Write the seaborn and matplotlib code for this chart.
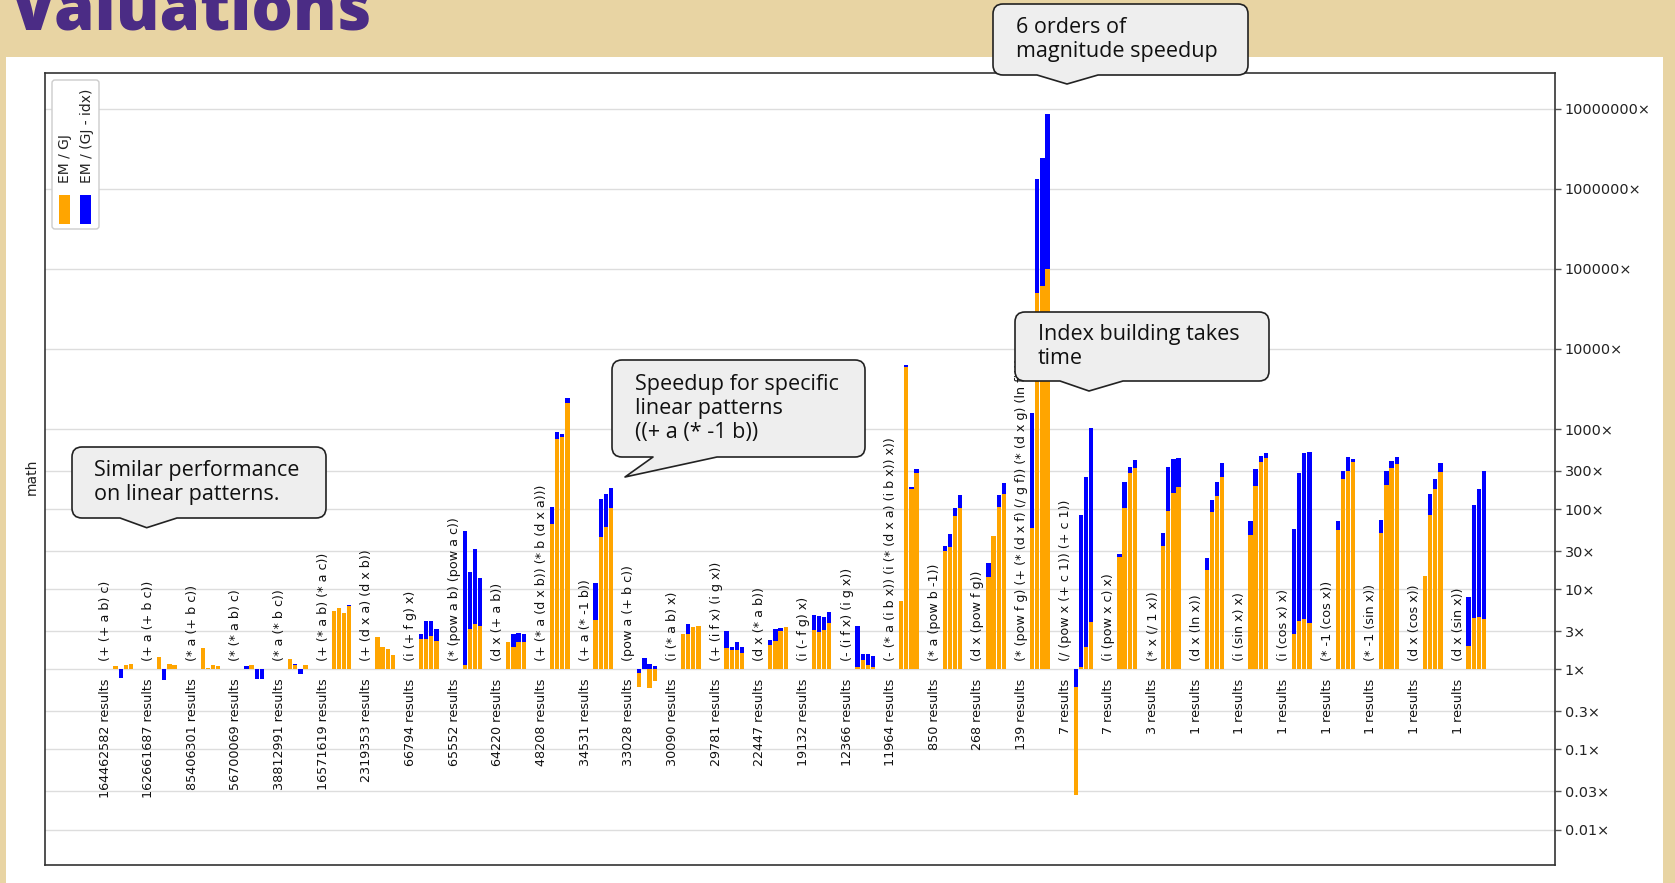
import numpy as np
import pandas as pd
import matplotlib
matplotlib.use("Agg")
import matplotlib.pyplot as plt
from matplotlib.path import Path
from matplotlib.patches import PathPatch, Rectangle, FancyBboxPatch
import seaborn as sns

# ---------------------------------------------------------------- data
patterns = [
    "(+ (+ a b) c)", "(+ a (+ b c))", "(* a (+ b c))", "(* (* a b) c)",
    "(* a (* b c))", "(+ (* a b) (* a c))", "(+ (d x a) (d x b))", "(i (+ f g) x)",
    "(* (pow a b) (pow a c))", "(d x (+ a b))", "(+ (* a (d x b)) (* b (d x a)))",
    "(+ a (* -1 b))", "(pow a (+ b c))", "(i (* a b) x)", "(+ (i f x) (i g x))",
    "(d x (* a b))", "(i (- f g) x)", "(- (i f x) (i g x))",
    "(- (* a (i b x)) (i (* (d x a) (i b x)) x))", "(* a (pow b -1))",
    "(d x (pow f g))", "(* (pow f g) (+ (* (d x f) (/ g f)) (* (d x g) (ln f))))",
    "(/ (pow x (+ c 1)) (+ c 1))", "(i (pow x c) x)", "(* x (/ 1 x))",
    "(d x (ln x))", "(i (sin x) x)", "(i (cos x) x)", "(* -1 (cos x))",
    "(* -1 (sin x))", "(d x (cos x))", "(d x (sin x))",
]
result_counts = [
    164462582, 162661687, 85406301, 56700069, 38812991, 16571619, 2319353, 66794,
    65552, 64220, 48208, 34531, 33028, 30090, 29781, 22447, 19132, 12366, 11964,
    850, 268, 139, 7, 7, 3, 1, 1, 1, 1, 1, 1, 1,
]
# speedup EM / GJ, four runs per pattern
em_over_gj = [
    [1.11, 1.0, 1.13, 1.17], [1.43, 1.0, 1.17, 1.12], [1.83, 1.04, 1.13, 1.11],
    [1.0, 1.13, 1.0, 1.0], [1.35, 1.12, 1.0, 1.12], [5.35, 5.83, 5.1, 6.2],
    [2.5, 1.9, 1.78, 1.52], [2.39, 2.41, 2.6, 2.26], [1.14, 3.19, 3.65, 3.5],
    [2.21, 1.92, 2.17, 2.17], [65.2, 758, 787, 2133], [4.13, 45.3, 60.4, 102],
    [0.61, 1.0, 0.58, 0.71], [2.76, 2.76, 3.35, 3.51], [1.83, 1.74, 1.74, 1.61],
    [2.01, 2.28, 3.04, 3.35], [3.1, 2.9, 3.1, 3.83], [1.06, 1.31, 1.13, 1.08],
    [7.05, 5970, 180, 285], [29.7, 33.7, 81, 104], [14.2, 46.4, 107, 156],
    [57.3, 49400, 61000, 99500], [0.027, 1.07, 1.92, 3.85], [25.5, 104, 280, 323],
    [35, 95.7, 157, 187], [17.4, 91.2, 147, 249], [47.5, 196, 384, 431],
    [2.73, 4.01, 4.25, 3.83], [55, 238, 299, 384], [49.9, 200, 323, 366],
    [14.6, 84.5, 177, 288], [1.95, 4.33, 4.5, 4.3],
]
# speedup EM / (GJ - index building time)
em_over_gj_minus_idx = [
    [1.11, 0.77, 1.13, 1.17], [1.43, 0.74, 1.17, 1.12], [1.83, 1.04, 1.14, 1.11],
    [1.09, 1.13, 0.75, 0.75], [1.35, 1.15, 0.87, 1.12], [5.35, 5.83, 5.1, 6.3],
    [2.5, 1.9, 1.81, 1.52], [2.76, 3.97, 3.97, 3.16], [53, 16.6, 31.8, 13.7],
    [2.21, 2.76, 2.81, 2.76], [107, 927, 867, 2417], [11.9, 132, 154, 182],
    [0.89, 1.40, 1.15, 1.11], [2.76, 3.65, 3.42, 3.51], [3.04, 1.92, 2.17, 1.92],
    [2.32, 3.16, 3.25, 3.35], [4.77, 4.63, 4.55, 5.15], [3.51, 1.55, 1.55, 1.47],
    [7.05, 6220, 187, 314], [35.1, 49.1, 104, 148], [21.2, 46.4, 148, 209],
    [1585, 1.31e6, 2.44e6, 8.57e6], [0.61, 84.6, 255, 1040], [27.5, 220, 333, 410],
    [49.9, 333, 419, 439], [24.3, 130, 216, 373], [71, 314, 461, 507],
    [56.5, 280, 497, 522], [71, 299, 443, 419], [73, 299, 403, 443],
    [14.6, 154, 235, 373], [8.1, 112, 180, 300],
]
series_names = ["EM / GJ", "EM / (GJ - idx)"]
series_colors = ["#ffa500", "#0000ff"]
tick_values = [1e7, 1e6, 1e5, 1e4, 1000, 300, 100, 30, 10, 3, 1, 0.3, 0.1, 0.03, 0.01]
tick_labels = ["10000000×", "1000000×", "100000×", "10000×", "1000×", "300×",
               "100×", "30×", "10×", "3×", "1×", "0.3×", "0.1×", "0.03×", "0.01×"]

# ---------------------------------------------------------------- layout
W, H = 1675, 883
BAR_OFFSET, BAR_STEP = 0.2405, 0.118

rows = []
for g, (o_vals, b_vals) in enumerate(zip(em_over_gj, em_over_gj_minus_idx)):
    for k, (o, b) in enumerate(zip(o_vals, b_vals)):
        lo, lb = np.log10(o), np.log10(b)
        pos = g + BAR_OFFSET + BAR_STEP * k
        # the taller bar goes behind, the shorter one is drawn over it
        if abs(lb) >= abs(lo):
            rows.append((pos, series_names[1], lb, "back"))
            rows.append((pos, series_names[0], lo, "front"))
        else:
            rows.append((pos, series_names[0], lo, "back"))
            rows.append((pos, series_names[1], lb, "front"))
df = pd.DataFrame(rows, columns=["pos", "series", "log_speedup", "layer"])

sns.set_theme(style="white")
plt.rcParams["font.family"] = ["DejaVu Sans"]

fig = plt.figure(figsize=(W / 100, H / 100), dpi=100)
fig.patch.set_facecolor("#e8d4a3")
fig.add_artist(Rectangle((6 / W, 0), (1663 - 6) / W, (H - 57) / H,
                         transform=fig.transFigure, facecolor="white",
                         edgecolor="none", zorder=-1))

ax_l, ax_r, ax_t, ax_b = 45, 1555, 72.6, 865
ax = fig.add_axes([ax_l / W, 1 - ax_b / H, (ax_r - ax_l) / W, (ax_b - ax_t) / H])

palette = dict(zip(series_names, series_colors))
for layer in ["back", "front"]:
    sns.barplot(data=df[df["layer"] == layer], x="pos", y="log_speedup",
                hue="series", hue_order=series_names, palette=palette,
                native_scale=True, dodge=False, width=0.835, errorbar=None,
                saturation=1, linewidth=0, legend=False, ax=ax)

ax.set_xlim(-1.375, 33.22)
ax.set_ylim(-2.443, 7.45)
ax.set_xticks([])
ax.set_xlabel("")
ax.set_ylabel("")
ax.set_yticks(np.log10(tick_values))
ax.set_yticklabels(tick_labels)
ax.yaxis.tick_right()
ax.tick_params(axis="y", right=True, left=False, labelright=True, labelleft=False,
               length=4, width=1, color="#555555", labelsize=10.4, pad=3,
               labelcolor="#222222")
ax.yaxis.grid(True, color="#dddddd", linewidth=1)
ax.set_axisbelow(True)
for sp in ax.spines.values():
    sp.set_color("#333333")
    sp.set_linewidth(1.2)

ax.text(-13 / (ax_r - ax_l), (ax_b - 477) / (ax_b - ax_t), "math", rotation=90,
        ha="center", va="center", fontsize=10, color="#222222",
        transform=ax.transAxes)

for g, (pat, cnt) in enumerate(zip(patterns, result_counts)):
    ax.annotate(f"{cnt} results", xy=(g, 0), xytext=(0, -9),
                textcoords="offset pixels", rotation=90, ha="center", va="top",
                fontsize=9.2, color="#111111")
    ax.annotate(pat, xy=(g, 0), xytext=(0, 8), textcoords="offset pixels",
                rotation=90, ha="center", va="bottom", fontsize=9.2,
                color="#111111")

# ---------------------------------------------------------------- overlay (pixel coordinates)
ov = fig.add_axes([0, 0, 1, 1], zorder=5)
ov.set_xlim(0, W)
ov.set_ylim(H, 0)
ov.axis("off")
ov.patch.set_alpha(0)

# legend
ov.add_patch(FancyBboxPatch((52, 80), 47, 149, boxstyle="round,pad=0,rounding_size=3",
                            facecolor="white", edgecolor="#cccccc", linewidth=1))
ov.text(65.5, 183, series_names[0], rotation=90, ha="center", va="bottom",
        fontsize=10, color="#222222")
ov.text(87, 183, series_names[1], rotation=90, ha="center", va="bottom",
        fontsize=10, color="#222222")
ov.add_patch(Rectangle((58.5, 195), 11, 29, facecolor=series_colors[0], edgecolor="none"))
ov.add_patch(Rectangle((80, 195), 11, 29, facecolor=series_colors[1], edgecolor="none"))


def bubble(x0, y0, x1, y1, tbl, tbr, tip, r=10):
    verts = [
        (x0 + r, y0), (x1 - r, y0), (x1, y0), (x1, y0 + r), (x1, y1 - r),
        (x1, y1), (x1 - r, y1), (tbr, y1), tip, (tbl, y1), (x0 + r, y1),
        (x0, y1), (x0, y1 - r), (x0, y0 + r), (x0, y0), (x0 + r, y0), (x0 + r, y0),
    ]
    codes = [
        Path.MOVETO, Path.LINETO, Path.CURVE3, Path.CURVE3, Path.LINETO,
        Path.CURVE3, Path.CURVE3, Path.LINETO, Path.LINETO, Path.LINETO, Path.LINETO,
        Path.CURVE3, Path.CURVE3, Path.LINETO, Path.CURVE3, Path.CURVE3, Path.CLOSEPOLY,
    ]
    return PathPatch(Path(verts, codes), facecolor="#eeeeee", edgecolor="#222222",
                     linewidth=1.2, joinstyle="round")


callouts = [
    ((72, 447, 326, 518), (120, 177, (146.7, 527.7)), 94,
     "Similar performance\non linear patterns."),
    ((612, 360, 865, 457), (653, 717, (625, 477)), 635,
     "Speedup for specific\nlinear patterns\n((+ a (* -1 b))"),
    ((993, 4, 1248, 75), (1037, 1098, (1067, 84)), 1016,
     "6 orders of\nmagnitude speedup"),
    ((1015, 312, 1269, 381), (1060, 1123, (1089, 391)), 1038,
     "Index building takes\ntime"),
]
for (x0, y0, x1, y1), (tbl, tbr, tip), tx, txt in callouts:
    ov.add_patch(bubble(x0, y0, x1, y1, tbl, tbr, tip))
    ov.text(tx, (y0 + y1) / 2, txt, ha="left", va="center", fontsize=15.5,
            family=["Open Sans", "DejaVu Sans"], color="#111111", linespacing=1.2)

fig.text(10 / W, 1 - 29 / H, "Valuations", ha="left", va="baseline",
         fontsize=47, fontweight="heavy", family=["Open Sans", "DejaVu Sans"],
         color="#4b2c85")

fig.savefig("out.png", dpi=100, facecolor=fig.get_facecolor())
